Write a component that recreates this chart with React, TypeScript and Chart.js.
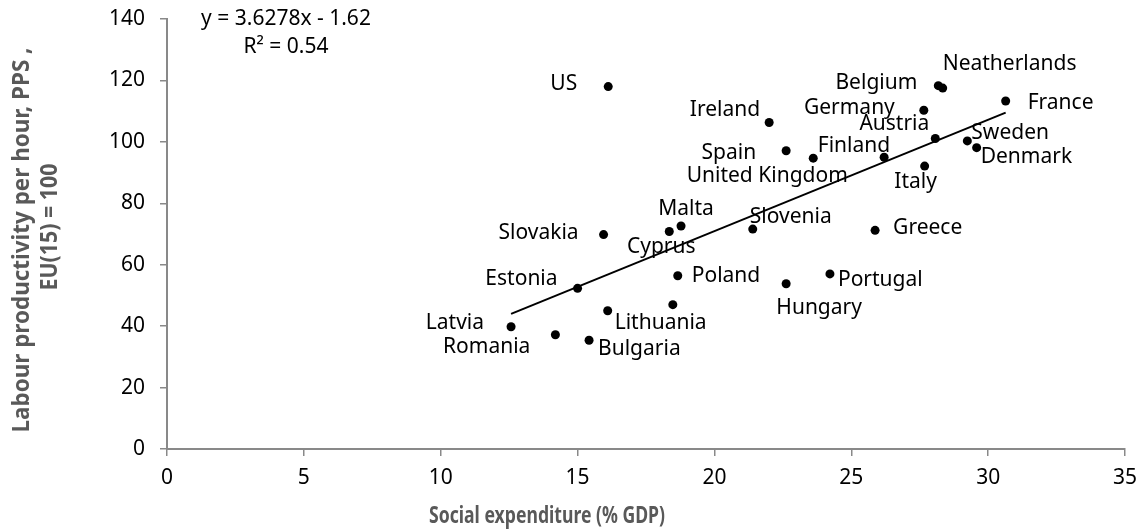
import React, { useEffect, useRef } from "react";
import { Chart, registerables } from "chart.js";

Chart.register(...registerables);

// ---- Data ----
const countries: string[] = [
  "US", "Ireland", "Slovakia", "Cyprus", "Malta", "Slovenia", "Spain", "United Kingdom",
  "Finland", "Germany", "Belgium", "Neatherlands", "France", "Austria", "Sweden", "Denmark",
  "Italy", "Greece", "Estonia", "Poland", "Hungary", "Portugal", "Latvia", "Romania",
  "Bulgaria", "Lithuania", "",
];
const socialExpenditure: number[] = [
  16.12, 22.0, 15.95, 18.35, 18.78, 21.4, 22.62, 23.61,
  26.2, 27.65, 28.18, 28.34, 30.64, 28.07, 29.24, 29.58,
  27.68, 25.87, 15.0, 18.66, 22.62, 24.22, 12.57, 14.19,
  15.42, 16.1, 18.48,
];
const productivity: number[] = [
  118.0, 106.3, 69.8, 70.8, 72.6, 71.6, 97.1, 94.7,
  95.0, 110.3, 118.3, 117.5, 113.3, 101.1, 100.3, 98.1,
  92.1, 71.2, 52.3, 56.4, 53.8, 57.0, 39.8, 37.2,
  35.4, 45.0, 47.0,
];
const trendX: number[] = [12.57, 30.64];
const trendY: number[] = [44.0, 109.5];
const equationText: string[] = ["y = 3.6278x - 1.62", "R\u00B2 = 0.54"];
const xTitle = "Social expenditure (% GDP)";
const yTitleLines: string[] = ["Labour productivity per hour, PPS ,", "EU(15) = 100"];

// ---- Label placement (style only) ----
const labelPlacement: Record<string, [CanvasTextAlign, number, number]> = {
  "US": ["right", -31, -3],
  "Ireland": ["right", -9, -12],
  "Slovakia": ["right", -25, -2],
  "Cyprus": ["center", -8, 15],
  "Malta": ["center", 5, -17],
  "Slovenia": ["left", -3, -12],
  "Spain": ["right", -30, 2],
  "United Kingdom": ["center", -46, 18],
  "Finland": ["right", 6, -11],
  "Germany": ["right", -29, -2],
  "Belgium": ["right", -21, -3],
  "Neatherlands": ["left", 0, -24],
  "France": ["left", 22, 2],
  "Austria": ["right", -6, -14],
  "Sweden": ["left", 4, -8],
  "Denmark": ["left", 4, 9],
  "Italy": ["center", -9, 16],
  "Greece": ["left", 18, -2],
  "Estonia": ["right", -20, -9],
  "Poland": ["left", 14, 0],
  "Hungary": ["center", 33, 24],
  "Portugal": ["left", 8, 6],
  "Latvia": ["right", -27, -4],
  "Romania": ["right", -25, 12],
  "Lithuania": ["left", 7, 12],
  "Bulgaria": ["left", 9, 9],
};

const FONT = "'Noto Sans', 'DejaVu Sans', sans-serif";
const AXIS_COLOR = "#898989";
const TITLE_COLOR = "#595959";

const labelsPlugin = {
  id: "pointLabels",
  afterDatasetsDraw(chart: any) {
    const ctx = chart.ctx as CanvasRenderingContext2D;
    const xs = chart.scales.x;
    const ys = chart.scales.y;
    ctx.save();
    ctx.fillStyle = "#000";
    ctx.font = `21px ${FONT}`;
    ctx.textBaseline = "middle";
    countries.forEach((name, i) => {
      if (!name) return;
      const p = labelPlacement[name] || ["left", 8, 0];
      const px = xs.getPixelForValue(socialExpenditure[i]);
      const py = ys.getPixelForValue(productivity[i]);
      ctx.textAlign = p[0];
      ctx.fillText(name, px + p[1], py + p[2]);
    });
    // equation
    ctx.textAlign = "center";
    ctx.fillText(equationText[0], 286, 19);
    ctx.fillText(equationText[1], 286, 47);
    // axis titles
    ctx.fillStyle = TITLE_COLOR;
    ctx.font = `bold 23px ${FONT}`;
    ctx.fillText(xTitle, 547, 516, 236);
    ctx.save();
    ctx.translate(22, 240);
    ctx.rotate(-Math.PI / 2);
    ctx.fillText(yTitleLines[0], 0, 0, 385);
    ctx.restore();
    ctx.save();
    ctx.translate(50, 227);
    ctx.rotate(-Math.PI / 2);
    ctx.fillText(yTitleLines[1], 0, 0, 127);
    ctx.restore();
    ctx.restore();
  },
};

const zeroPad = (s: any) => {
  s.paddingTop = 0;
  s.paddingBottom = 0;
  s.paddingLeft = 0;
  s.paddingRight = 0;
};

export default function App() {
  const canvasRef = useRef<HTMLCanvasElement | null>(null);

  useEffect(() => {
    if (!canvasRef.current) return;
    const points = socialExpenditure.map((x, i) => ({ x, y: productivity[i] }));
    const trend = trendX.map((x, i) => ({ x, y: trendY[i] }));
    const chart = new Chart(canvasRef.current, {
      type: "scatter",
      data: {
        datasets: [
          {
            type: "line",
            data: trend,
            borderColor: "#000",
            borderWidth: 2,
            pointRadius: 0,
            fill: false,
          } as any,
          {
            type: "scatter",
            data: points,
            backgroundColor: "#000",
            borderColor: "#000",
            borderWidth: 0,
            pointRadius: 4.5,
          },
        ],
      },
      options: {
        responsive: false,
        animation: false,
        events: [],
        layout: { padding: { left: 0, right: 14, top: 19, bottom: 0 } },
        plugins: {
          legend: { display: false },
          tooltip: { enabled: false },
          title: { display: false },
        },
        scales: {
          x: {
            type: "linear",
            min: 0,
            max: 35,
            afterFit: (s: any) => { s.height = 82; zeroPad(s); },
            ticks: {
              stepSize: 5,
              color: "#000",
              font: { family: FONT, size: 21 },
              padding: 9,
            },
            grid: {
              drawOnChartArea: false,
              drawTicks: true,
              tickLength: 7,
              color: AXIS_COLOR,
              lineWidth: 1.5,
            },
            border: { display: true, color: AXIS_COLOR, width: 2 },
          },
          y: {
            type: "linear",
            min: 0,
            max: 140,
            afterFit: (s: any) => { s.width = 167; zeroPad(s); },
            ticks: {
              stepSize: 20,
              color: "#000",
              font: { family: FONT, size: 21 },
              padding: 15,
            },
            grid: {
              drawOnChartArea: false,
              drawTicks: true,
              tickLength: 7,
              color: AXIS_COLOR,
              lineWidth: 1.5,
            },
            border: { display: true, color: AXIS_COLOR, width: 2 },
          },
        },
      },
      plugins: [labelsPlugin],
    });
    return () => chart.destroy();
  }, []);

  return (
    <div style={{ position: "absolute", left: 0, top: 0, width: 1139, height: 531, background: "#fff" }}>
      <canvas ref={canvasRef} width={1139} height={531} style={{ width: 1139, height: 531, display: "block" }} />
    </div>
  );
}
